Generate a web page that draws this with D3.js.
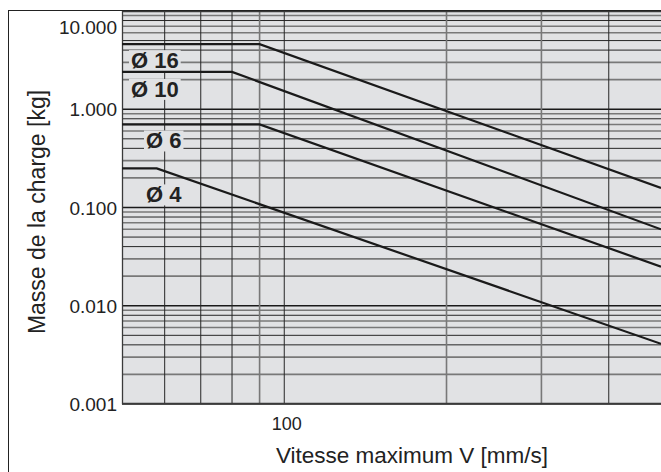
<!DOCTYPE html>
<html>
<head>
<meta charset="utf-8">
<script src="https://cdn.jsdelivr.net/npm/d3@7/dist/d3.min.js"></script>
<style>
  html, body { margin: 0; padding: 0; background: #fff; }
  svg { display: block; font-family: "Liberation Sans", Arial, Helvetica, sans-serif; }
</style>
</head>
<body>
<svg id="chart" width="661" height="472"></svg>
<script>
// ---- data ----
const seriesNames = ["Ø 16", "Ø 10", "Ø 6", "Ø 4"];
const vStart  = [50, 50, 50, 50];          // mm/s
const vCorner = [90, 80, 90, 58];          // mm/s
const mFlat   = [4.6, 2.4, 0.7, 0.25];     // kg
const vEnd    = [500, 500, 500, 500];      // mm/s
const mEnd    = [0.158, 0.060, 0.025, 0.0041]; // kg

const xDomain = [50, 500];
const yDomain = [0.001, 10];
const xGridValues = [60, 70, 80, 90, 100, 200, 300, 400];
const xTickLabels = [100];
const yTickValues = [0.001, 0.01, 0.1, 1, 10];
const yMinorDigits = [2, 3, 4, 5, 6, 7, 8, 9];

const xTitle = "Vitesse maximum V [mm/s]";
const yTitle = "Masse de la charge [kg]";

// ---- layout ----
const plot = { left: 122, right: 661, top: 11, bottom: 404 };
const BG = "#e1e2e4";
const DARK = "#262626", GRAY = "#787878";

const svg = d3.select("#chart");

const x = d3.scaleLog().domain(xDomain).range([plot.left, plot.right]);
const y = d3.scaleLog().domain(yDomain).range([plot.bottom, plot.top]);

// outer frame
svg.append("rect")
  .attr("x", 8.5).attr("y", 10.5).attr("width", 700).attr("height", 500)
  .attr("fill", "none").attr("stroke", "#222").attr("stroke-width", 1);

// plot background
svg.append("rect")
  .attr("x", plot.left).attr("y", plot.top)
  .attr("width", plot.right - plot.left).attr("height", plot.bottom - plot.top)
  .attr("fill", BG);

const grid = svg.append("g");

// horizontal minor gridlines
const minorVals = [];
for (let k = -3; k < 1; k++) {
  yMinorDigits.forEach(d => minorVals.push({ v: d * Math.pow(10, k), d }));
}
const grayDigits = new Set([2, 3, 6, 7, 9]);
grid.selectAll("line.hmin").data(minorVals).join("line")
  .attr("class", "hmin")
  .attr("x1", plot.left).attr("x2", plot.right)
  .attr("y1", d => y(d.v)).attr("y2", d => y(d.v))
  .attr("stroke", d => grayDigits.has(d.d) ? GRAY : DARK)
  .attr("stroke-width", d => grayDigits.has(d.d) ? 1.6 : 1);

// horizontal major gridlines
grid.selectAll("line.hmaj").data(yTickValues).join("line")
  .attr("class", "hmaj")
  .attr("x1", plot.left).attr("x2", plot.right)
  .attr("y1", d => y(d)).attr("y2", d => y(d))
  .attr("stroke", "#1a1a1a").attr("stroke-width", 1.3);

// vertical gridlines
const grayV = new Set([90, 200, 300]);
grid.selectAll("line.v").data(xGridValues).join("line")
  .attr("class", "v")
  .attr("y1", plot.top).attr("y2", plot.bottom)
  .attr("x1", d => x(d)).attr("x2", d => x(d))
  .attr("stroke", d => grayV.has(d) ? GRAY : DARK)
  .attr("stroke-width", d => grayV.has(d) ? 1.6 : 1);

// plot border (left, top, bottom)
svg.append("path")
  .attr("d", `M${plot.right},${plot.top + 0.5}H${plot.left + 0.5}V${plot.bottom - 0.5}H${plot.right}`)
  .attr("fill", "none").attr("stroke", "#3a3a3a").attr("stroke-width", 1.3);

// y axis labels
const yAxis = d3.axisLeft(y)
  .tickValues(yTickValues)
  .tickFormat(d3.format(".3f"))
  .tickSize(0).tickPadding(0);
const yg = svg.append("g").attr("transform", `translate(${plot.left - 5},0)`).call(yAxis);
yg.select(".domain").remove();
yg.selectAll("text")
  .attr("font-size", 19).attr("fill", "#222")
  .attr("font-family", "Liberation Sans, Arial, sans-serif")
  .attr("dy", d => d === 10 ? "1.2em" : "0.35em");

// x axis labels
const xAxis = d3.axisBottom(x)
  .tickValues(xTickLabels)
  .tickFormat(d3.format("d"))
  .tickSize(0).tickPadding(0);
const xg = svg.append("g").attr("transform", `translate(2,${plot.bottom + 13})`).call(xAxis);
xg.select(".domain").remove();
xg.selectAll("text")
  .attr("font-size", 18).attr("fill", "#222")
  .attr("font-family", "Liberation Sans, Arial, sans-serif");

// titles
svg.append("text")
  .attr("x", 412).attr("y", 463)
  .attr("text-anchor", "middle")
  .attr("font-size", 22.5).attr("fill", "#222")
  .text(xTitle);

svg.append("text")
  .attr("transform", "translate(45,212) rotate(-90)")
  .attr("text-anchor", "middle")
  .attr("font-size", 23).attr("fill", "#222")
  .text(yTitle);

// series labels with background boxes
const labelDX = [9, 9, 24, 24];
const labelDY = [24, 25, 24, 34];
const lg = svg.append("g");
seriesNames.forEach((name, i) => {
  const g = lg.append("g");
  const t = g.append("text")
    .attr("x", x(vStart[i]) + labelDX[i])
    .attr("y", y(mFlat[i]) + labelDY[i])
    .attr("font-size", 22).attr("font-weight", "bold").attr("fill", "#222")
    .text(name);
  const bb = t.node().getBBox();
  g.insert("rect", "text")
    .attr("x", bb.x - 2).attr("y", bb.y + 2)
    .attr("width", bb.width + 4).attr("height", bb.height - 4)
    .attr("fill", BG);
});

// data lines
const line = d3.line().x(d => x(d[0])).y(d => y(d[1]));
const seriesData = seriesNames.map((n, i) => [
  [vStart[i], mFlat[i]],
  [vCorner[i], mFlat[i]],
  [vEnd[i], mEnd[i]]
]);
svg.append("g").selectAll("path").data(seriesData).join("path")
  .attr("d", line)
  .attr("fill", "none")
  .attr("stroke", "#1a1a1a")
  .attr("stroke-width", 2.2);
</script>
</body>
</html>
